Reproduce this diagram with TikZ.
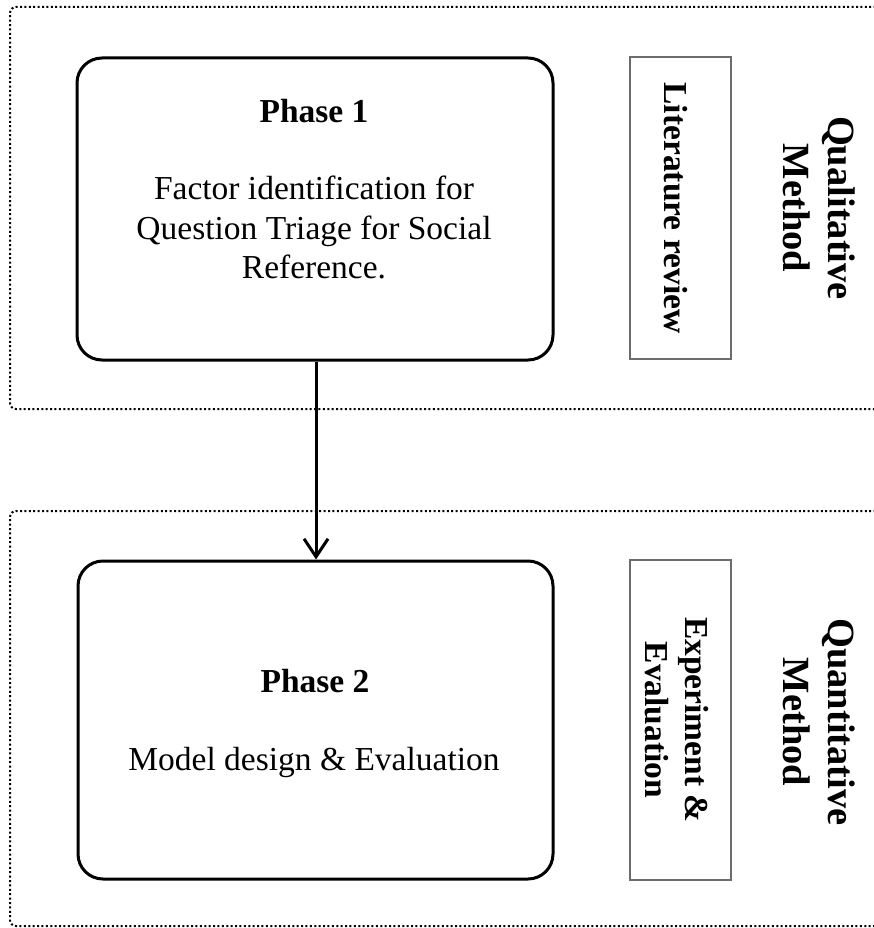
\documentclass[tikz,border=0pt]{standalone}
\usepackage{fontspec}
\setmainfont{Liberation Serif}
\usetikzlibrary{arrows.meta}
\tikzset{
  region/.style={line width=2pt, dash pattern=on 2pt off 2.4pt, rounded corners=6pt},
  phasebox/.style={draw, line width=3pt, rounded corners=25pt, inner sep=0pt},
  sidebox/.style={draw=gray!85!black, line width=2pt, inner sep=0pt, minimum width=101pt},
  txt/.style={font=\fontsize{33.5}{39}\selectfont, inner sep=0pt, anchor=base},
  btxt/.style={font=\fontsize{33.5}{39}\selectfont\bfseries, inner sep=0pt, anchor=base},
  sidetxt/.style={font=\fontsize{33.5}{40}\selectfont\bfseries, align=center, rotate=-90, inner sep=0pt},
  methtxt/.style={font=\fontsize{38.5}{45}\selectfont\bfseries, align=center, rotate=-90, inner sep=0pt},
  flow/.style={line width=3pt, -{Straight Barb[length=18pt,width=24pt,line width=3pt]}}
}
\begin{document}
\begin{tikzpicture}[x=1pt,y=-1pt]
\useasboundingbox (0,0) rectangle (873,928);
% dotted regions (open on the right)
\draw[region] (880,7) -- (10,7) -- (10,409) -- (880,409);
\draw[region] (880,511) -- (10,511) -- (10,926) -- (880,926);
% phase boxes
\node[phasebox, minimum width=476pt, minimum height=302pt] (p1) at (315,209) {};
\node[phasebox, minimum width=475pt, minimum height=318pt] (p2) at (315.5,720) {};
% phase 1 text
\node[btxt] (p1t) at (314,123) {Phase 1};
\node[txt] (p1a) at (314,200) {Factor identification for};
\node[txt] (p1b) at (314,239) {Question Triage for Social};
\node[txt] (p1c) at (314,278) {Reference.};
% phase 2 text
\node[btxt] (p2t) at (315,692) {Phase 2};
\node[txt] (p2a) at (314,770) {Model design \& Evaluation};
% side boxes
\node[sidebox, minimum height=302pt] (s1) at (680.5,208) {};
\node[sidebox, minimum height=320pt] (s2) at (680,720) {};
\node[sidetxt] (s1t) at (676,208) {Literature review};
\node[sidetxt] (s2t) at (677,720) {Experiment \&\\Evaluation};
% method labels
\node[methtxt] (m1) at (819,208) {Qualitative\\Method};
\node[methtxt] (m2) at (819,722) {Quantitative\\Method};
% connector
\draw[flow] (p1.south -| 316,0) -- (p2.north -| 316,0);
\end{tikzpicture}
\end{document}
